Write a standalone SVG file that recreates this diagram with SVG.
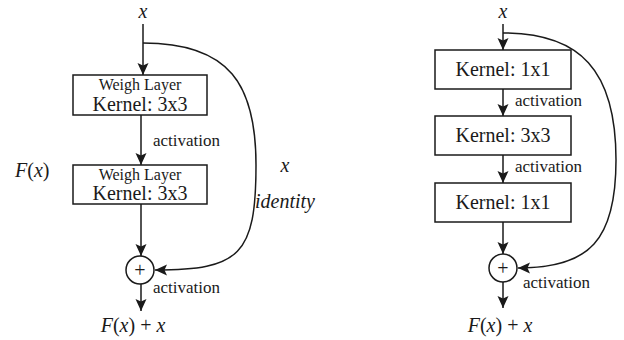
<svg xmlns="http://www.w3.org/2000/svg" width="624" height="340" viewBox="0 0 624 340">
<style>
.bg{fill:#ffffff}
.box{fill:#ffffff;stroke:#1a1a1a;stroke-width:1.5}
.ln{fill:none;stroke:#1a1a1a;stroke-width:1.5}
text{font-family:'Liberation Serif','Tinos','Times New Roman','DejaVu Serif',serif;fill:#1a1a1a}
.k{font-size:20px;text-anchor:middle}
.w{font-size:16px;text-anchor:middle}
.a{font-size:17px}
.m{font-size:20px}
.i{font-style:italic}
</style>
<defs>
<marker id="arr" markerUnits="userSpaceOnUse" markerWidth="13" markerHeight="12" refX="12" refY="5.5" orient="auto">
<path d="M0,0 L12,5.5 L0,11 L2.5,5.5 z" fill="#1a1a1a"/>
</marker>
</defs>
<rect class="bg" x="0" y="0" width="624" height="340"/>
<g id="connectors">
<line class="ln" x1="143" y1="24" x2="143" y2="75" marker-end="url(#arr)"/>
<line class="ln" x1="141" y1="115" x2="141" y2="165" marker-end="url(#arr)"/>
<line class="ln" x1="141" y1="204" x2="141" y2="256" marker-end="url(#arr)"/>
<line class="ln" x1="141" y1="284" x2="141" y2="311" marker-end="url(#arr)"/>
<path class="ln" d="M143,43 C230,43 256,85 256,165 C256,255 240,270 155,270" marker-end="url(#arr)"/>
<line class="ln" x1="503" y1="24" x2="503" y2="50" marker-end="url(#arr)"/>
<line class="ln" x1="503" y1="89" x2="503" y2="116" marker-end="url(#arr)"/>
<line class="ln" x1="503" y1="155" x2="503" y2="183" marker-end="url(#arr)"/>
<line class="ln" x1="503" y1="222" x2="503" y2="254" marker-end="url(#arr)"/>
<line class="ln" x1="503" y1="282" x2="503" y2="308" marker-end="url(#arr)"/>
<path class="ln" d="M503,33 C580,33 616,70 616,160 C616,240 590,268 518,268" marker-end="url(#arr)"/>
</g>
<g id="left-input"><text class="m i" x="143" y="18" text-anchor="middle">x</text></g>
<g id="left-layer1">
<rect class="box" x="73" y="75" width="134" height="40"/>
<text class="w" x="140" y="90">Weigh Layer</text>
<text class="k" x="140" y="111">Kernel: 3x3</text>
</g>
<g id="left-act1"><text class="a" x="153" y="146">activation</text></g>
<g id="left-layer2">
<rect class="box" x="73" y="165" width="134" height="39"/>
<text class="w" x="140" y="180">Weigh Layer</text>
<text class="k" x="140" y="200">Kernel: 3x3</text>
</g>
<g id="left-fx"><text class="m" x="15" y="177"><tspan class="i">F</tspan>(<tspan class="i">x</tspan>)</text></g>
<g id="left-identity">
<text class="m i" x="285" y="172" text-anchor="middle">x</text>
<text class="m i" x="255" y="208">identity</text>
</g>
<g id="left-sum">
<circle class="box" cx="140" cy="270" r="14"/>
<text class="m" x="140" y="277" text-anchor="middle">+</text>
</g>
<g id="left-act2"><text class="a" x="153" y="293">activation</text></g>
<g id="left-output"><text class="m" x="133" y="332" text-anchor="middle"><tspan class="i">F</tspan>(<tspan class="i">x</tspan>) + <tspan class="i">x</tspan></text></g>
<g id="right-input"><text class="m i" x="503" y="18" text-anchor="middle">x</text></g>
<g id="right-layer1">
<rect class="box" x="435" y="50" width="136" height="39"/>
<text class="k" x="503" y="76">Kernel: 1x1</text>
</g>
<g id="right-act1"><text class="a" x="515" y="106">activation</text></g>
<g id="right-layer2">
<rect class="box" x="435" y="116" width="136" height="39"/>
<text class="k" x="503" y="142">Kernel: 3x3</text>
</g>
<g id="right-act2"><text class="a" x="515" y="172">activation</text></g>
<g id="right-layer3">
<rect class="box" x="435" y="183" width="136" height="39"/>
<text class="k" x="503" y="209">Kernel: 1x1</text>
</g>
<g id="right-sum">
<circle class="box" cx="503" cy="268" r="14"/>
<text class="m" x="503" y="275" text-anchor="middle">+</text>
</g>
<g id="right-act3"><text class="a" x="523" y="288">activation</text></g>
<g id="right-output"><text class="m" x="500" y="332" text-anchor="middle"><tspan class="i">F</tspan>(<tspan class="i">x</tspan>) + <tspan class="i">x</tspan></text></g>
</svg>
